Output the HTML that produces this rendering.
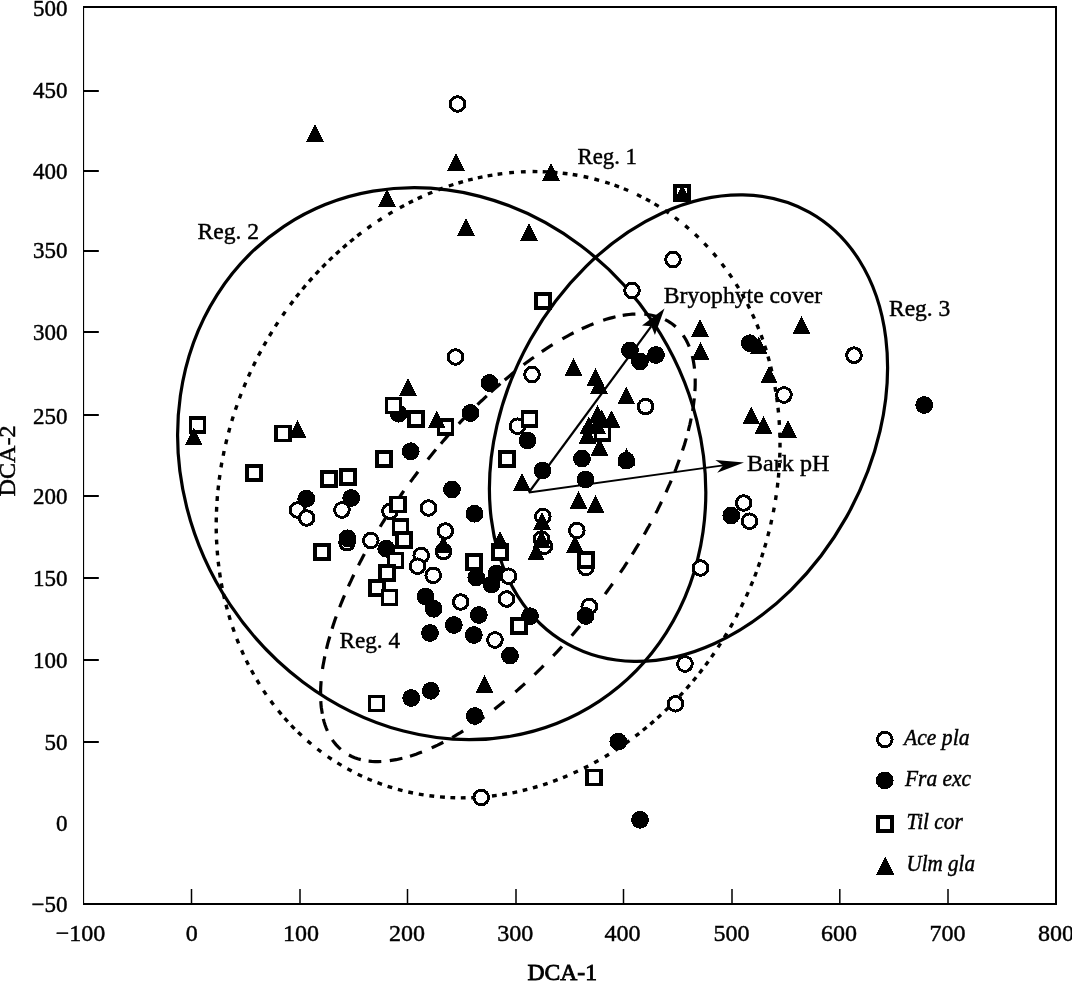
<!DOCTYPE html>
<html><head><meta charset="utf-8"><title>DCA ordination</title>
<style>html,body{margin:0;padding:0;background:#fff}svg{display:block}text{font-family:"Liberation Serif","DejaVu Serif",serif;fill:#000;stroke:#000;stroke-width:0.45px}.t{font-size:24px}.k{font-size:23px}.b{font-size:23px;font-weight:bold;stroke-width:0.15px}.i{font-size:23px;font-style:italic}</style></head><body>
<svg width="1072" height="981" viewBox="0 0 1072 981">
<rect width="1072" height="981" fill="#fff"/>
<g fill="#000">
<rect x="83" y="6" width="1.1" height="899"/>
<rect x="83" y="6" width="974" height="2"/>
<rect x="1055" y="6" width="2" height="899"/>
<rect x="83" y="903" width="974" height="2"/>
<rect x="84" y="90" width="14.8" height="2"/>
<rect x="84" y="170" width="14.8" height="2"/>
<rect x="84" y="250" width="14.8" height="2"/>
<rect x="84" y="331" width="14.8" height="2"/>
<rect x="84" y="414" width="14.8" height="2"/>
<rect x="84" y="495" width="14.8" height="2"/>
<rect x="84" y="577" width="14.8" height="2"/>
<rect x="84" y="659" width="14.8" height="2"/>
<rect x="84" y="741" width="14.8" height="2"/>
<rect x="190.75" y="889" width="1.5" height="14"/>
<rect x="299.25" y="889" width="1.5" height="14"/>
<rect x="406.75" y="889" width="1.5" height="14"/>
<rect x="515.25" y="889" width="1.5" height="14"/>
<rect x="622.75" y="889" width="1.5" height="14"/>
<rect x="731.25" y="889" width="1.5" height="14"/>
<rect x="839.05" y="889" width="1.5" height="14"/>
<rect x="947.25" y="889" width="1.5" height="14"/>
</g>
<text class="k" x="67.5" y="15.5" text-anchor="end">500</text>
<text class="k" x="67.5" y="97.5" text-anchor="end">450</text>
<text class="k" x="67.5" y="178.8" text-anchor="end">400</text>
<text class="k" x="67.5" y="258.2" text-anchor="end">350</text>
<text class="k" x="67.5" y="339.6" text-anchor="end">300</text>
<text class="k" x="67.5" y="423.6" text-anchor="end">250</text>
<text class="k" x="67.5" y="503.6" text-anchor="end">200</text>
<text class="k" x="67.5" y="585.6" text-anchor="end">150</text>
<text class="k" x="67.5" y="667.6" text-anchor="end">100</text>
<text class="k" x="67.5" y="749.8" text-anchor="end">50</text>
<text class="k" x="67.5" y="831" text-anchor="end">0</text>
<text class="k" x="67.5" y="912.2" text-anchor="end">−50</text>
<text class="t" x="80.5" y="940.6" text-anchor="middle">−100</text>
<text class="t" x="191.8" y="940.6" text-anchor="middle">0</text>
<text class="t" x="301" y="940.6" text-anchor="middle">100</text>
<text class="t" x="407" y="940.6" text-anchor="middle">200</text>
<text class="t" x="515.3" y="940.6" text-anchor="middle">300</text>
<text class="t" x="622.6" y="940.6" text-anchor="middle">400</text>
<text class="t" x="731.4" y="940.6" text-anchor="middle">500</text>
<text class="t" x="839" y="940.6" text-anchor="middle">600</text>
<text class="t" x="947.6" y="940.6" text-anchor="middle">700</text>
<text class="t" x="1056" y="940.6" text-anchor="middle">800</text>
<text class="t" style="stroke-width:0.85px" x="527.5" y="980" textLength="69.5" lengthAdjust="spacingAndGlyphs">DCA-1</text>
<text class="t" transform="translate(15.2,496.5) rotate(-90)" textLength="71" lengthAdjust="spacingAndGlyphs">DCA-2</text>
<g fill="none" stroke="#000">
<ellipse cx="441.7" cy="463.7" rx="285" ry="254.3" transform="rotate(-123.6 441.7 463.7)" stroke-width="3.2"/>
<ellipse cx="688.5" cy="428.2" rx="247.4" ry="181.2" transform="rotate(-60.7 688.5 428.2)" stroke-width="3.2"/>
<path d="M637.0,194.5L641.3,196.7M645.9,199.0L650.1,201.3M654.5,203.9L658.7,206.4M664.9,210.4L668.9,213.1M674.9,217.5L678.7,220.3M685.2,225.6L688.8,228.7M695.0,234.2L698.5,237.5M704.3,243.3L707.6,246.8M713.3,253.2L716.4,256.9M721.8,263.7L724.7,267.5M729.2,273.7L731.9,277.6M736.1,284.1L738.6,288.2M742.0,294.0L744.3,298.2M747.5,304.1L749.6,308.4M752.4,314.2L754.4,318.6M756.9,324.5L758.7,329.0M761.1,335.1L762.7,339.6M764.7,345.7L766.2,350.3M768.0,356.5L769.3,361.1M770.7,366.6L771.8,371.3M773.1,376.8L774.0,381.5M775.0,387.0L775.8,391.7M776.7,397.3L777.3,402.1M778.0,407.7L778.5,412.5M779.1,420.1L779.4,424.9M779.8,432.6L779.9,437.4M780.0,442.7L780.0,447.5M779.9,452.7L779.7,457.5M779.5,462.8L779.2,467.6M778.8,472.8L778.4,477.6M777.8,482.8L777.3,487.6M776.2,495.2L775.5,500.0M774.2,507.6L773.3,512.3M771.7,519.9L770.7,524.5M769.0,531.5L767.8,536.1M766.0,543.0L764.6,547.5M763.0,552.7L761.6,557.3M759.8,562.4L758.2,566.9M756.4,572.0L754.7,576.5M752.7,581.5L750.8,585.9M748.2,592.1L746.2,596.5M743.3,602.6L741.2,607.0M738.1,613.0L735.9,617.3M732.7,623.2L730.3,627.4M726.8,633.4L724.3,637.5M720.6,643.4L718.0,647.4M714.1,653.2L711.4,657.1M708.3,661.4L705.5,665.3M702.3,669.4L699.4,673.2M696.1,677.3L693.1,681.0M689.7,684.9L686.5,688.6M682.9,692.7L679.6,696.2M675.8,700.2L672.5,703.7M668.5,707.6L665.1,710.9M661.0,714.7L657.5,717.9M653.9,721.1L650.3,724.2M646.6,727.3L642.9,730.3M639.2,733.3L635.4,736.2M629.4,740.6L625.5,743.4M619.3,747.6L615.3,750.3M609.0,754.3L604.9,756.8M598.4,760.5L594.2,762.8M588.3,766.0L584.0,768.1M577.9,771.0L573.6,773.0M567.4,775.7L563.0,777.6M557.6,779.7L553.1,781.4M547.6,783.3L543.1,784.8M537.5,786.5L532.9,787.9M527.3,789.4L522.7,790.5M517.2,791.8L512.5,792.8M507.0,793.8L502.2,794.6M496.7,795.4L492.0,796.0M486.4,796.7L481.6,797.1M476.0,797.5L471.2,797.7M465.6,797.8L460.8,797.9M455.2,797.8L450.4,797.6M444.9,797.3L440.0,796.9M434.2,796.3L429.4,795.7M423.6,794.9L418.8,794.1M413.0,793.0L408.3,792.0M402.5,790.6L397.9,789.4M392.2,787.7L387.6,786.3M382.0,784.3L377.5,782.7M371.9,780.5L367.5,778.7M362.1,776.2L357.7,774.2M351.7,771.1L347.4,768.8M341.5,765.4L337.4,762.9M331.7,759.2L327.7,756.6M321.2,751.9L317.4,749.0M311.2,744.0L307.5,740.9M301.6,735.5L298.1,732.2M294.5,728.8L291.2,725.3M287.8,721.7L284.6,718.2M281.4,714.4L278.3,710.7M273.6,704.7L270.7,700.9M266.2,694.6L263.5,690.6M259.4,684.1L256.9,680.0M253.7,674.5L251.4,670.3M248.4,664.7L246.3,660.4M243.5,654.6L241.6,650.3M238.6,643.3L236.8,638.8M234.2,631.7L232.6,627.1M230.2,619.9L228.9,615.3M227.2,609.4L226.0,604.8M224.5,598.8L223.5,594.1M222.2,588.1L221.3,583.4M220.3,577.4L219.6,572.6M218.8,566.4L218.2,561.7M217.6,555.4L217.2,550.7M216.8,544.4L216.5,539.6M216.3,533.4L216.2,528.6M216.2,522.4L216.3,517.5M216.5,511.7L216.7,506.9M217.1,501.0L217.4,496.2M218.0,490.3L218.5,485.5M219.2,479.7L219.9,474.9M221.0,467.4L221.8,462.6M223.2,455.7L224.1,451.0M225.7,444.1L226.8,439.4M228.6,432.5L229.8,427.9M231.8,421.1L233.2,416.6M235.4,409.8L237.0,405.3M239.4,398.4L241.1,393.9M243.9,387.1L245.7,382.7M248.4,376.5L250.4,372.1M253.3,366.0L255.4,361.7M258.4,355.6L260.7,351.4M263.8,345.7L266.2,341.6M269.4,336.0L271.9,331.9M275.3,326.4L277.9,322.4M282.6,315.5L285.3,311.6M290.2,304.9L293.1,301.1M296.2,296.9L299.2,293.2M302.5,289.2L305.6,285.4M309.0,281.5L312.2,278.0M315.7,274.1L319.0,270.6M322.3,267.2L325.7,263.8M329.1,260.4L332.5,257.1M336.0,253.9L339.6,250.7M343.0,247.7L346.6,244.6M350.1,241.7L353.8,238.7M357.3,235.9L361.2,232.9M367.4,228.3L371.3,225.5M377.8,221.2L381.8,218.5M388.4,214.4L392.5,211.9M399.9,207.7L404.1,205.4M408.7,203.0L413.0,200.9M417.7,198.6L422.0,196.6M427.9,194.0L432.3,192.2M438.3,189.8L442.8,188.1M448.8,186.0L453.4,184.5M458.4,183.0L463.0,181.6M468.1,180.2L472.7,179.1M477.8,177.9L482.5,176.9M487.6,175.9L492.4,175.1M497.6,174.2L502.3,173.6M509.2,172.8L514.0,172.4M520.9,171.9L525.7,171.7M532.6,171.5L537.4,171.6M542.7,171.7L547.5,171.9M552.7,172.2L557.5,172.6M562.7,173.2L567.5,173.8M572.7,174.5L577.4,175.3M583.6,176.5L588.3,177.5M594.4,179.0L599.1,180.3M605.2,182.1L609.7,183.5M614.5,185.2L619.0,186.8M623.8,188.7L628.2,190.5" stroke-width="3.4"/>
<path d="M683.2,335.3L684.9,338.0L686.5,340.7L687.9,343.6L689.2,346.6M692.3,356.0L693.0,359.1L693.6,362.2L694.1,365.4L694.5,368.6M695.2,378.4L695.2,381.6L695.2,384.8L695.1,388.0L694.9,391.2M694.3,398.4L693.9,401.6L693.5,404.7L693.1,407.9L692.6,411.1M691.1,418.5L690.5,421.7L689.8,424.8L689.0,427.9L688.3,431.0M686.3,438.4L685.4,441.4L684.5,444.5L683.5,447.6L682.5,450.6M679.3,459.8L678.2,462.8L677.1,465.8L676.0,468.8L674.8,471.8M671.2,480.6L669.9,483.6L668.6,486.4L667.3,489.4L666.0,492.3M661.5,501.8L660.1,504.7L658.7,507.5L657.3,510.4L655.8,513.2M650.4,523.4L648.9,526.2L647.3,528.9L645.8,531.7L644.2,534.6M638.9,543.5L637.3,546.2L635.6,548.9L634.0,551.6L632.2,554.4M627.3,562.1L625.6,564.7L623.9,567.4L622.0,570.1L620.3,572.7M612.6,583.8L610.7,586.4L608.9,588.9L607.0,591.5L605.1,594.1M596.7,605.2L594.8,607.7L592.8,610.2L590.8,612.7L588.8,615.2M580.0,626.0L577.9,628.4L575.9,630.8L573.8,633.3L571.7,635.7M561.9,646.5L559.8,648.9L557.7,651.2L555.4,653.5L553.2,655.9M543.6,665.7L541.4,667.9L539.1,670.1L536.8,672.4L534.5,674.6M525.0,683.5L522.6,685.6L520.2,687.7L517.8,689.9L515.4,692.0M504.4,701.3L501.9,703.3L499.4,705.2L496.9,707.2L494.4,709.2M484.3,716.7L481.7,718.6L479.0,720.4L476.4,722.3L473.8,724.1M463.2,730.9L460.5,732.6L457.8,734.2L455.0,735.8L452.2,737.5M443.3,742.3L440.4,743.7L437.6,745.1L434.6,746.5L431.7,747.9M422.0,752.0L419.0,753.1L416.1,754.2L413.0,755.2L410.0,756.2M402.4,758.3L399.2,759.0L396.1,759.7L392.9,760.2L389.8,760.7M381.3,761.5L378.2,761.6L375.0,761.6L371.7,761.4L368.6,761.1M360.8,759.6L357.7,758.8L354.7,757.7L351.8,756.5L348.9,755.0M340.7,749.4L338.4,747.2L336.2,744.9L334.1,742.4L332.3,739.8M327.4,730.9L326.2,728.0L325.1,725.0L324.1,721.9L323.3,718.8M322.3,713.8L321.8,710.6L321.3,707.5L321.0,704.3L320.8,701.1M320.6,693.9L320.6,690.7L320.7,687.5L320.9,684.3L321.1,681.1M322.5,669.0L323.0,665.8L323.6,662.7L324.2,659.5L324.8,656.4M326.5,648.8L327.2,645.8L328.0,642.7L328.9,639.5L329.8,636.5M332.1,628.7L333.1,625.6L334.1,622.6L335.1,619.5L336.2,616.5M339.7,607.2L340.8,604.3L342.0,601.3L343.2,598.4L344.5,595.4M348.4,586.4L349.7,583.5L351.1,580.6L352.4,577.7L353.8,574.8M358.5,565.4L359.9,562.5L361.4,559.7L362.9,556.8L364.4,554.0M368.9,545.8L370.5,543.0L372.1,540.3L373.7,537.5L375.3,534.7M380.2,526.7L381.8,524.0L383.5,521.3L385.2,518.6L387.0,515.8M396.5,501.4L398.3,498.8L400.2,496.2L402.0,493.5L403.8,490.9M410.3,482.0L412.3,479.4L414.1,476.9L416.1,474.3L418.0,471.7M427.8,459.4L429.8,456.9L431.8,454.5L433.8,452.0L435.9,449.5M440.9,443.7L443.0,441.3L445.1,438.9L447.2,436.4L449.4,434.0M458.8,423.8L461.0,421.4L463.2,419.1L465.4,416.8L467.6,414.5M477.5,404.7L479.8,402.4L482.1,400.3L484.4,398.1L486.8,395.9M490.9,392.1L493.3,389.9L495.6,387.8L498.0,385.7L500.4,383.6M504.7,380.0L507.2,377.9L509.6,375.9L512.1,373.8L514.6,371.8M523.6,364.7L526.2,362.8L528.7,360.9L531.3,359.0L533.9,357.2M541.8,351.7L544.5,349.9L547.1,348.2L549.8,346.4L552.6,344.7M562.4,338.9L565.1,337.3L567.9,335.8L570.8,334.2L573.6,332.8M581.8,328.8L584.7,327.5L587.6,326.2L590.5,324.9L593.5,323.7M603.2,320.3L606.2,319.3L609.3,318.4L612.4,317.6L615.5,316.8M622.7,315.4L625.8,314.9L629.0,314.5L632.2,314.2L635.4,314.1M644.3,314.2L647.4,314.5L650.6,315.0L653.7,315.7L656.9,316.5M665.1,319.7L668.0,321.2L670.6,322.8L673.3,324.7L675.7,326.8" stroke-width="3.2"/>
</g>
<path d="M528.8,492.5L651.4,326.2" stroke="#000" stroke-width="2.2" fill="none"/><path d="M664.5,308.5L654.9,335.0L651.4,326.2L642.0,325.5Z" fill="#000"/>
<path d="M528.8,492.5L723.2,465.4" stroke="#000" stroke-width="1.8" fill="none"/><path d="M744.0,462.5L717.2,472.8L723.2,465.4L715.4,459.9Z" fill="#000"/>
<g shape-rendering="crispEdges">
<circle cx="347" cy="542.8" r="7.3" fill="#fff" stroke="#000" stroke-width="3"/>
<circle cx="589.3" cy="606.5" r="7.3" fill="#fff" stroke="#000" stroke-width="3"/>
<circle cx="630" cy="350.5" r="8.9" fill="#000"/>
<circle cx="640" cy="361.4" r="8.9" fill="#000"/>
<circle cx="656" cy="355" r="8.9" fill="#000"/>
<circle cx="749.8" cy="343.2" r="8.9" fill="#000"/>
<circle cx="489.5" cy="383" r="8.9" fill="#000"/>
<circle cx="470.5" cy="413" r="8.9" fill="#000"/>
<circle cx="398.75" cy="413.75" r="8.9" fill="#000"/>
<circle cx="410.75" cy="451.25" r="8.9" fill="#000"/>
<circle cx="527.5" cy="440.5" r="8.9" fill="#000"/>
<circle cx="582" cy="458.6" r="8.9" fill="#000"/>
<circle cx="542.5" cy="470.5" r="8.9" fill="#000"/>
<circle cx="585.5" cy="479.5" r="8.9" fill="#000"/>
<circle cx="452" cy="489.5" r="8.9" fill="#000"/>
<circle cx="474.5" cy="513.75" r="8.9" fill="#000"/>
<circle cx="924.25" cy="405" r="8.9" fill="#000"/>
<circle cx="731.25" cy="515.5" r="8.9" fill="#000"/>
<circle cx="306.25" cy="498.75" r="8.9" fill="#000"/>
<circle cx="351.25" cy="498" r="8.9" fill="#000"/>
<circle cx="347.5" cy="538.3" r="8.9" fill="#000"/>
<circle cx="386.25" cy="548.75" r="8.9" fill="#000"/>
<circle cx="425.6" cy="596.6" r="8.9" fill="#000"/>
<circle cx="433.6" cy="608.8" r="8.9" fill="#000"/>
<circle cx="430" cy="633" r="8.9" fill="#000"/>
<circle cx="411.25" cy="698" r="8.9" fill="#000"/>
<circle cx="430.8" cy="690.8" r="8.9" fill="#000"/>
<circle cx="476.25" cy="577.5" r="8.9" fill="#000"/>
<circle cx="491.5" cy="584.5" r="8.9" fill="#000"/>
<circle cx="496.5" cy="573.5" r="8.9" fill="#000"/>
<circle cx="478.75" cy="615" r="8.9" fill="#000"/>
<circle cx="453.75" cy="625" r="8.9" fill="#000"/>
<circle cx="473.75" cy="635" r="8.9" fill="#000"/>
<circle cx="530" cy="616.25" r="8.9" fill="#000"/>
<circle cx="510" cy="655.6" r="8.9" fill="#000"/>
<circle cx="585.6" cy="616" r="8.9" fill="#000"/>
<circle cx="474.75" cy="716" r="8.9" fill="#000"/>
<circle cx="618.3" cy="741.6" r="8.9" fill="#000"/>
<circle cx="640" cy="819.75" r="8.9" fill="#000"/>
<circle cx="884.75" cy="780.5" r="8.9" fill="#000"/>
<circle cx="457.5" cy="104" r="7.3" fill="#fff" stroke="#000" stroke-width="3"/>
<circle cx="632" cy="290.5" r="7.3" fill="#fff" stroke="#000" stroke-width="3"/>
<circle cx="673" cy="259.5" r="7.3" fill="#fff" stroke="#000" stroke-width="3"/>
<circle cx="854" cy="355.2" r="7.3" fill="#fff" stroke="#000" stroke-width="3"/>
<circle cx="784" cy="395" r="7.3" fill="#fff" stroke="#000" stroke-width="3"/>
<circle cx="455.5" cy="357" r="7.3" fill="#fff" stroke="#000" stroke-width="3"/>
<circle cx="532" cy="374.5" r="7.3" fill="#fff" stroke="#000" stroke-width="3"/>
<circle cx="645.6" cy="406.6" r="7.3" fill="#fff" stroke="#000" stroke-width="3"/>
<circle cx="517.5" cy="426.25" r="7.3" fill="#fff" stroke="#000" stroke-width="3"/>
<circle cx="428.5" cy="508" r="7.3" fill="#fff" stroke="#000" stroke-width="3"/>
<circle cx="542.9" cy="516.5" r="7.3" fill="#fff" stroke="#000" stroke-width="3"/>
<circle cx="445.3" cy="531" r="7.3" fill="#fff" stroke="#000" stroke-width="3"/>
<circle cx="576.8" cy="530.5" r="7.3" fill="#fff" stroke="#000" stroke-width="3"/>
<circle cx="743.75" cy="503" r="7.3" fill="#fff" stroke="#000" stroke-width="3"/>
<circle cx="749.5" cy="521.25" r="7.3" fill="#fff" stroke="#000" stroke-width="3"/>
<circle cx="297.5" cy="510" r="7.3" fill="#fff" stroke="#000" stroke-width="3"/>
<circle cx="306.75" cy="518" r="7.3" fill="#fff" stroke="#000" stroke-width="3"/>
<circle cx="342" cy="510" r="7.3" fill="#fff" stroke="#000" stroke-width="3"/>
<circle cx="390" cy="511.25" r="7.3" fill="#fff" stroke="#000" stroke-width="3"/>
<circle cx="370.75" cy="540.5" r="7.3" fill="#fff" stroke="#000" stroke-width="3"/>
<circle cx="421.2" cy="555.5" r="7.3" fill="#fff" stroke="#000" stroke-width="3"/>
<circle cx="417.5" cy="566.25" r="7.3" fill="#fff" stroke="#000" stroke-width="3"/>
<circle cx="433.2" cy="575.3" r="7.3" fill="#fff" stroke="#000" stroke-width="3"/>
<circle cx="508.5" cy="576.25" r="7.3" fill="#fff" stroke="#000" stroke-width="3"/>
<circle cx="506.5" cy="599" r="7.3" fill="#fff" stroke="#000" stroke-width="3"/>
<circle cx="460.75" cy="602" r="7.3" fill="#fff" stroke="#000" stroke-width="3"/>
<circle cx="495" cy="640" r="7.3" fill="#fff" stroke="#000" stroke-width="3"/>
<circle cx="585.8" cy="567.5" r="7.3" fill="#fff" stroke="#000" stroke-width="3"/>
<circle cx="700.5" cy="568" r="7.3" fill="#fff" stroke="#000" stroke-width="3"/>
<circle cx="685" cy="664" r="7.3" fill="#fff" stroke="#000" stroke-width="3"/>
<circle cx="675.5" cy="703.75" r="7.3" fill="#fff" stroke="#000" stroke-width="3"/>
<circle cx="481.25" cy="797.5" r="7.3" fill="#fff" stroke="#000" stroke-width="3"/>
<circle cx="544.4" cy="546.3" r="7.3" fill="#fff" stroke="#000" stroke-width="3"/>
<circle cx="541.5" cy="539" r="7.3" fill="#fff" stroke="#000" stroke-width="3"/>
<circle cx="443.5" cy="551.5" r="7.3" fill="#fff" stroke="#000" stroke-width="3"/>
<circle cx="626.3" cy="460.7" r="7.3" fill="#fff" stroke="#000" stroke-width="3"/>
<circle cx="884.75" cy="739.5" r="7.3" fill="#fff" stroke="#000" stroke-width="3"/>
<rect x="536" y="294" width="14" height="14" fill="#fff" stroke="#000" stroke-width="3.5"/>
<rect x="675" y="186" width="14" height="14" fill="#fff" stroke="#000" stroke-width="3.5"/>
<rect x="190.25" y="417.75" width="14" height="14" fill="#fff" stroke="#000" stroke-width="3.5"/>
<rect x="275.75" y="426.25" width="14" height="14" fill="#fff" stroke="#000" stroke-width="3.5"/>
<rect x="386.4" y="398.4" width="14" height="14" fill="#fff" stroke="#000" stroke-width="3.5"/>
<rect x="409" y="412" width="14" height="14" fill="#fff" stroke="#000" stroke-width="3.5"/>
<rect x="377" y="451.75" width="14" height="14" fill="#fff" stroke="#000" stroke-width="3.5"/>
<rect x="247" y="466" width="14" height="14" fill="#fff" stroke="#000" stroke-width="3.5"/>
<rect x="321.75" y="472" width="14" height="14" fill="#fff" stroke="#000" stroke-width="3.5"/>
<rect x="341" y="469.75" width="14" height="14" fill="#fff" stroke="#000" stroke-width="3.5"/>
<rect x="522.5" y="412" width="14" height="14" fill="#fff" stroke="#000" stroke-width="3.5"/>
<rect x="499.75" y="452" width="14" height="14" fill="#fff" stroke="#000" stroke-width="3.5"/>
<rect x="438.5" y="420" width="14" height="14" fill="#fff" stroke="#000" stroke-width="3.5"/>
<rect x="595.4" y="426.2" width="14" height="14" fill="#fff" stroke="#000" stroke-width="3.5"/>
<rect x="390.75" y="497.25" width="14" height="14" fill="#fff" stroke="#000" stroke-width="3.5"/>
<rect x="393.5" y="520" width="14" height="14" fill="#fff" stroke="#000" stroke-width="3.5"/>
<rect x="396.75" y="533" width="14" height="14" fill="#fff" stroke="#000" stroke-width="3.5"/>
<rect x="388.5" y="553.5" width="14" height="14" fill="#fff" stroke="#000" stroke-width="3.5"/>
<rect x="379.75" y="566" width="14" height="14" fill="#fff" stroke="#000" stroke-width="3.5"/>
<rect x="370" y="580.75" width="14" height="14" fill="#fff" stroke="#000" stroke-width="3.5"/>
<rect x="382.25" y="590.5" width="14" height="14" fill="#fff" stroke="#000" stroke-width="3.5"/>
<rect x="314.75" y="545" width="14" height="14" fill="#fff" stroke="#000" stroke-width="3.5"/>
<rect x="369.6" y="696.5" width="14" height="14" fill="#fff" stroke="#000" stroke-width="3.5"/>
<rect x="467" y="555" width="14" height="14" fill="#fff" stroke="#000" stroke-width="3.5"/>
<rect x="492.8" y="545" width="14" height="14" fill="#fff" stroke="#000" stroke-width="3.5"/>
<rect x="578.8" y="552.8" width="14" height="14" fill="#fff" stroke="#000" stroke-width="3.5"/>
<rect x="512" y="619" width="14" height="14" fill="#fff" stroke="#000" stroke-width="3.5"/>
<rect x="587" y="770.7" width="14" height="14" fill="#fff" stroke="#000" stroke-width="3.5"/>
<rect x="878" y="817" width="14" height="14" fill="#fff" stroke="#000" stroke-width="3.5"/>
<path d="M315,124.0l8.8,17.5h-17.6z" fill="#000"/>
<path d="M387,189.5l8.8,17.5h-17.6z" fill="#000"/>
<path d="M456,153.5l8.8,17.5h-17.6z" fill="#000"/>
<path d="M551,163.5l8.8,17.5h-17.6z" fill="#000"/>
<path d="M466,218.0l8.8,17.5h-17.6z" fill="#000"/>
<path d="M529,223.5l8.8,17.5h-17.6z" fill="#000"/>
<path d="M700,319.5l8.8,17.5h-17.6z" fill="#000"/>
<path d="M700.5,342.0l8.8,17.5h-17.6z" fill="#000"/>
<path d="M801.5,316.25l8.8,17.5h-17.6z" fill="#000"/>
<path d="M758.7,336.5l8.8,17.5h-17.6z" fill="#000"/>
<path d="M769,365.9l8.8,17.5h-17.6z" fill="#000"/>
<path d="M193.75,427.5l8.8,17.5h-17.6z" fill="#000"/>
<path d="M297.5,420.0l8.8,17.5h-17.6z" fill="#000"/>
<path d="M408,378.0l8.8,17.5h-17.6z" fill="#000"/>
<path d="M436.6,410.5l8.8,17.5h-17.6z" fill="#000"/>
<path d="M573.5,358.1l8.8,17.5h-17.6z" fill="#000"/>
<path d="M595.4,368.1l8.8,17.5h-17.6z" fill="#000"/>
<path d="M599,376.25l8.8,17.5h-17.6z" fill="#000"/>
<path d="M626.25,386.25l8.8,17.5h-17.6z" fill="#000"/>
<path d="M597.4,405.1l8.8,17.5h-17.6z" fill="#000"/>
<path d="M601.5,409.5l8.8,17.5h-17.6z" fill="#000"/>
<path d="M611.5,410.5l8.8,17.5h-17.6z" fill="#000"/>
<path d="M588.75,416.1l8.8,17.5h-17.6z" fill="#000"/>
<path d="M597.2,416.1l8.8,17.5h-17.6z" fill="#000"/>
<path d="M587.5,426.2l8.8,17.5h-17.6z" fill="#000"/>
<path d="M599.4,438.0l8.8,17.5h-17.6z" fill="#000"/>
<path d="M626.6,448.1l8.8,17.5h-17.6z" fill="#000"/>
<path d="M443.3,535.5l8.8,17.5h-17.6z" fill="#000"/>
<path d="M682.3,184.4l8.8,17.5h-17.6z" fill="#000"/>
<path d="M522,473.0l8.8,17.5h-17.6z" fill="#000"/>
<path d="M578.6,491.25l8.8,17.5h-17.6z" fill="#000"/>
<path d="M595.6,495.25l8.8,17.5h-17.6z" fill="#000"/>
<path d="M751.25,406.25l8.8,17.5h-17.6z" fill="#000"/>
<path d="M763.5,416.25l8.8,17.5h-17.6z" fill="#000"/>
<path d="M788,420.5l8.8,17.5h-17.6z" fill="#000"/>
<path d="M500,531.25l8.8,17.5h-17.6z" fill="#000"/>
<path d="M542,512.5l8.8,17.5h-17.6z" fill="#000"/>
<path d="M541.5,530.0l8.8,17.5h-17.6z" fill="#000"/>
<path d="M536,542.9l8.8,17.5h-17.6z" fill="#000"/>
<path d="M575,535.0l8.8,17.5h-17.6z" fill="#000"/>
<path d="M484.6,675.0l8.8,17.5h-17.6z" fill="#000"/>
<path d="M885.25,857.0l8.8,17.5h-17.6z" fill="#000"/>
</g>
<text class="t" x="577.5" y="163.8" textLength="59.5" lengthAdjust="spacingAndGlyphs">Reg. 1</text>
<text class="t" x="197.5" y="239" textLength="61.5" lengthAdjust="spacingAndGlyphs">Reg. 2</text>
<text class="t" x="889" y="315.5" textLength="61.3" lengthAdjust="spacingAndGlyphs">Reg. 3</text>
<text class="t" x="339.5" y="648" textLength="60.5" lengthAdjust="spacingAndGlyphs">Reg. 4</text>
<text class="t" x="663.8" y="303" textLength="158.3" lengthAdjust="spacingAndGlyphs">Bryophyte cover</text>
<text class="t" x="747" y="471.3" textLength="82.5" lengthAdjust="spacingAndGlyphs">Bark pH</text>
<text class="i" x="904" y="744.5" textLength="65.5" lengthAdjust="spacingAndGlyphs">Ace pla</text>
<text class="i" x="905" y="786" textLength="66" lengthAdjust="spacingAndGlyphs">Fra exc</text>
<text class="i" x="906.5" y="828.8" textLength="56.3" lengthAdjust="spacingAndGlyphs">Til cor</text>
<text class="i" x="906.5" y="871.2" textLength="68.5" lengthAdjust="spacingAndGlyphs">Ulm gla</text>
</svg></body></html>
